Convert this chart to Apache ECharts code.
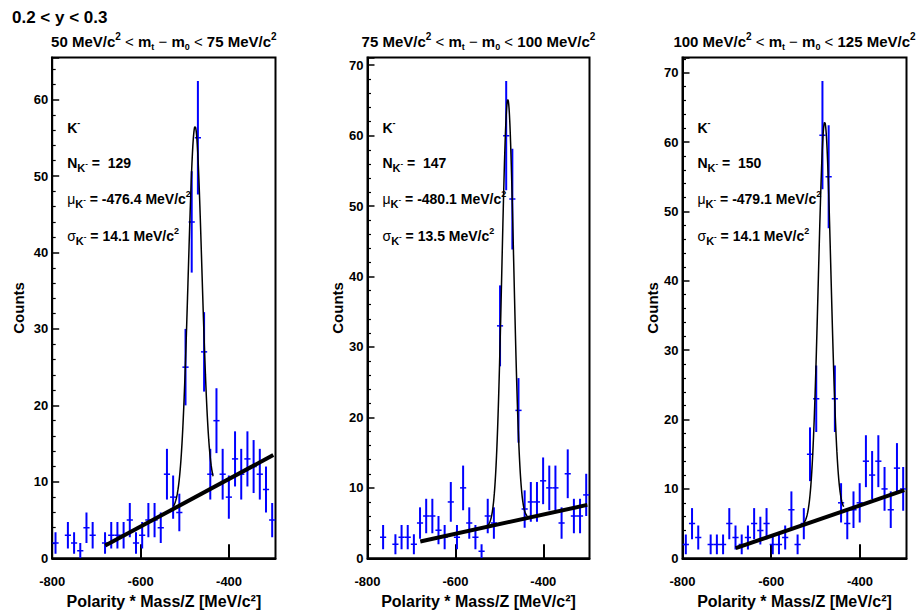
<!DOCTYPE html>
<html><head><meta charset="utf-8">
<script src="https://cdn.jsdelivr.net/npm/echarts@6/dist/echarts.min.js"></script>
<style>html,body{margin:0;padding:0;background:#fff}#c{width:920px;height:614px}</style>
</head><body><div id="c"></div>
<script>
// ---- data ----
const binCenters = [-792.5,-778.5,-764.5,-750.5,-736.5,-722.5,-708.5,-694.5,-680.5,-666.5,-652.5,-638.5,
  -624.5,-610.5,-596.5,-582.5,-568.5,-554.5,-540.5,-526.5,-512.5,-498.5,-484.5,-470.5,
  -456.5,-442.5,-428.5,-414.5,-400.5,-386.5,-372.5,-358.5,-344.5,-330.5,-316.5,-302.5];
const binHalfWidth = 7;
const counts1 = [2,0,3,2,1,4,3,0,2,3,3,3,5,2,3,5,5,4,11,8,6,25,44,55,27,11,18,11,8,13,11,13,12,11,9,5];
const counts2 = [0,0,3,0,2,3,3,2,5,6,6,4,3,8,3,10,5,3,1,6,5,33,60,51,21,7,8,8,11,10,10,5,12,6,6,9];
const counts3 = [2,5,3,0,2,2,2,5,3,2,3,5,4,5,2,2,3,7,2,5,15,23,61,55,23,8,5,7,8,14,12,14,10,7,13,10];
const bgLine1 = [[-680,1.66],[-300,13.5]];
const bgLine2 = [[-680,2.39],[-300,7.58]];
const bgLine3 = [[-680,1.46],[-300,9.82]];
// gaussian peak drawn on top of background: [mean, width, amplitude]
const peak1 = [-477.0, 15.5, 48.5];
const peak2 = [-480.8, 13.5, 60.0];
const peak3 = [-479.5, 14.3, 57.0];
const peakRange = [-526, -436];
const mtLow = ['50','75','100'];
const mtHigh = ['75','100','125'];
const nK = ['129','147','150'];
const muK = ['-476.4','-480.1','-479.1'];
const sigmaK = ['14.1','13.5','14.1'];
const xMin = -800, xMax = -295, xStep = 200;
const yMaxes = [65.5, 71.1, 72.2];
const yStep = 10;
const rapidityLabel = '0.2 < y < 0.3';
const xTitle = 'Polarity * Mass/Z [MeV/c\u00B2]';
const yTitle = 'Counts';

// ---- layout ----
const F = '"Liberation Sans", Arial, sans-serif';
const gLefts = [52.2, 367.5, 682.5];
const gWidths = [223.3, 222, 224];
const gTop = 57.5, gHeight = 500.8;
const nameGaps = [26, 23, 22];

const countsAll = [counts1, counts2, counts3];
const bgAll = [bgLine1, bgLine2, bgLine3];
const peakAll = [peak1, peak2, peak3];

function bgAt(line, x) {
  const p0 = line[0], p1 = line[1];
  return p0[1] + (p1[1] - p0[1]) * (x - p0[0]) / (p1[0] - p0[0]);
}
function fitCurve(line, p) {
  const out = [];
  for (let x = peakRange[0]; x <= peakRange[1] + 1e-9; x += 0.5) {
    const g = p[2] * Math.exp(-(x - p[0]) * (x - p[0]) / (2 * p[1] * p[1]));
    out.push([x, g + bgAt(line, x)]);
  }
  return out;
}

const grids = [], xAxes = [], yAxes = [], series = [], graphics = [];
for (let i = 0; i < 3; i++) {
  grids.push({left: gLefts[i], top: gTop, width: gWidths[i], height: gHeight, show: true,
    borderColor: '#000', borderWidth: 2, backgroundColor: '#fff', containLabel: false, outerBoundsMode: 'none'});
  xAxes.push({type: 'value', gridIndex: i, min: xMin, max: xMax, interval: xStep,
    splitLine: {show: false},
    axisLine: {show: true, onZero: false, lineStyle: {color: '#000', width: 2}},
    axisTick: {show: true, inside: true, length: 14, lineStyle: {color: '#000', width: 2}},
    axisLabel: {show: true, color: '#000', fontFamily: F, fontWeight: 'bold', fontSize: 13, margin: 17, showMaxLabel: false},
    name: xTitle, nameLocation: 'middle', nameGap: 35,
    nameTextStyle: {color: '#000', fontFamily: F, fontWeight: 'bold', fontSize: 16}
  });
  yAxes.push({type: 'value', gridIndex: i, min: 0, max: yMaxes[i], interval: yStep,
    splitLine: {show: false},
    axisLine: {show: true, onZero: false, lineStyle: {color: '#000', width: 2}},
    axisTick: {show: true, inside: true, length: 7, lineStyle: {color: '#000', width: 1.5}},
    minorTick: {show: true, splitNumber: 5, length: 3.5, lineStyle: {color: '#000', width: 1.2}},
    axisLabel: {show: true, color: '#000', fontFamily: F, fontWeight: 'bold', fontSize: 13, margin: 4, showMaxLabel: false},
    name: yTitle, nameLocation: 'middle', nameGap: nameGaps[i], nameRotate: 90,
    nameTextStyle: {color: '#000', fontFamily: F, fontWeight: 'bold', fontSize: 15}
  });
  const pts = binCenters.map((x, k) => [x, countsAll[i][k]]).filter(d => d[1] > 0);
  series.push({
    type: 'custom', xAxisIndex: i, yAxisIndex: i, data: pts, clip: true, z: 2,
    renderItem: function (params, api) {
      const x = api.value(0), y = api.value(1), e = Math.sqrt(y);
      const a = api.coord([x, y - e]), b = api.coord([x, y + e]);
      const l = api.coord([x - binHalfWidth, y]), r = api.coord([x + binHalfWidth, y]);
      return {type: 'group', children: [
        {type: 'line', shape: {x1: a[0], y1: a[1], x2: b[0], y2: b[1]}, style: {stroke: '#0000ff', lineWidth: 2}},
        {type: 'line', shape: {x1: l[0], y1: l[1], x2: r[0], y2: r[1]}, style: {stroke: '#0000ff', lineWidth: 1.5}}
      ]};
    }
  });
  series.push({type: 'line', xAxisIndex: i, yAxisIndex: i, data: fitCurve(bgAll[i], peakAll[i]),
    showSymbol: false, symbol: 'none', smooth: false, z: 3, animation: false,
    lineStyle: {color: '#000', width: 1.5}});
  series.push({type: 'line', xAxisIndex: i, yAxisIndex: i, data: bgAll[i],
    showSymbol: false, symbol: 'none', z: 4, animation: false,
    lineStyle: {color: '#000', width: 4}});

  const rt = {
    b: {fontFamily: F, fontWeight: 'bold', fontSize: 15, lineHeight: 20, fill: '#000'},
    r: {fontFamily: F, fontWeight: 'normal', fontSize: 15, lineHeight: 20, fill: '#000'},
    sup: {fontFamily: F, fontWeight: 'bold', fontSize: 10, lineHeight: 10, verticalAlign: 'top', fill: '#000'},
    sub: {fontFamily: F, fontWeight: 'bold', fontSize: 9, lineHeight: 10, verticalAlign: 'bottom', fill: '#000'}
  };
  graphics.push({type: 'text', x: gLefts[i] + gWidths[i] / 2, y: 41, z: 10,
    style: {text: '{b|' + mtLow[i] + ' MeV/c}{sup|2}{r| < }{b|m}{sub|t}{r| \u2212 }{b|m}{sub|0}{r| < }{b|' + mtHigh[i] + ' MeV/c}{sup|2}',
      rich: rt, align: 'center', verticalAlign: 'middle', fill: '#000'}});

  const ri = {
    b: {fontFamily: F, fontWeight: 'bold', fontSize: 14, lineHeight: 20, fill: '#000'},
    g: {fontFamily: F, fontWeight: 'normal', fontSize: 14, lineHeight: 20, fill: '#000'},
    sup: {fontFamily: F, fontWeight: 'bold', fontSize: 9, lineHeight: 12, verticalAlign: 'top', fill: '#000'},
    sub: {fontFamily: F, fontWeight: 'bold', fontSize: 11, lineHeight: 11, verticalAlign: 'bottom', fill: '#000'},
    ss: {fontFamily: F, fontWeight: 'bold', fontSize: 8, lineHeight: 20, fill: '#000'}
  };
  const lx = gLefts[i] + 15;
  const lines = [
    ['{b|K}{sup|-}', 128],
    ['{b|N}{sub|K}{ss|-}{b| =  ' + nK[i] + '}', 163],
    ['{g|\u03BC}{sub|K}{ss|-}{b| = ' + muK[i] + ' MeV/c}{sup|2}', 199],
    ['{g|\u03C3}{sub|K}{ss|-}{b| = ' + sigmaK[i] + ' MeV/c}{sup|2}', 236]
  ];
  lines.forEach(function (ln) { graphics.push({type: 'text', x: lx, y: ln[1], z: 10,
    style: {text: ln[0], rich: ri, align: 'left', verticalAlign: 'middle', fill: '#000'}}); });
}
graphics.push({type: 'text', x: 12, y: 17, z: 10,
  style: {text: rapidityLabel, fontFamily: F, fontWeight: 'bold', fontSize: 17, fill: '#000', align: 'left', verticalAlign: 'middle'}});

const chart = echarts.init(document.getElementById('c'), null, {renderer: 'svg', width: 920, height: 614});
chart.setOption({
  animation: false,
  backgroundColor: '#fff',
  grid: grids, xAxis: xAxes, yAxis: yAxes, series: series, graphic: graphics
});
</script></body></html>
